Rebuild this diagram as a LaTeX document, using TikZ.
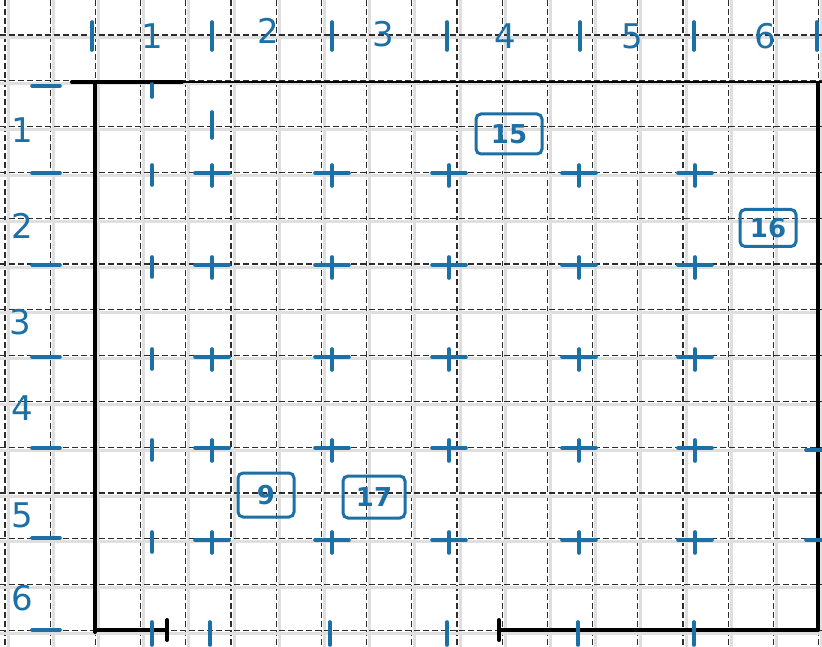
\documentclass[tikz,border=0pt]{standalone}
\usepackage{tikz}
\usepackage{fontspec}
\setmainfont{DejaVu Sans}
\definecolor{inkblue}{RGB}{28, 112, 165}
\definecolor{paperline}{RGB}{45, 45, 45}

\begin{document}
\begin{tikzpicture}[
  x=1pt, y=-1pt,
  ink/.style={draw=inkblue, line width=3.6pt, line cap=round},
  wall/.style={draw=black, line width=4pt, line cap=round},
  rulernum/.style={text=inkblue, font=\fontsize{34}{36}\selectfont, inner sep=0pt},
  tagbox/.style={rectangle, rounded corners=5pt, draw=inkblue, line width=3pt,
    text=inkblue, font=\fontsize{26}{28}\selectfont\bfseries, inner sep=2pt}
]
  \useasboundingbox (0,0) rectangle (822,647);
  \fill[white] (0,0) rectangle (822,647);

  % paper grid
  \foreach \k in {0,...,18} {
    \draw[gray!25, line width=3pt] (5+45.2*\k+3,0) -- (5+45.2*\k+3,647);
    \draw[paperline, line width=1.2pt, dash pattern=on 6pt off 3pt] (5+45.2*\k,0) -- (5+45.2*\k,647);
  }
  \foreach \k in {0,...,13} {
    \draw[gray!25, line width=3pt] (0,35+45.8*\k+3) -- (822,35+45.8*\k+3);
    \draw[paperline, line width=1.2pt, dash pattern=on 6pt off 3pt] (0,35+45.8*\k) -- (822,35+45.8*\k);
  }

  % walls
  \draw[wall] (72,82) -- (182,82);
  \draw[black, line width=2pt] (182,82) -- (822,82);
  \draw[wall] (95,82) -- (95,632);
  \draw[wall] (95,630) -- (167,630);
  \draw[wall] (167,620) -- (167,640);
  \draw[wall] (499,630) -- (818,630);
  \draw[wall] (499,620) -- (499,640);
  \draw[wall] (818,84) -- (818,630);

  % top ruler
  \foreach \px in {92,212,332,447,580,694,817}
    \draw[ink] (\px,22) -- (\px,50);
  \node[rulernum] (top1) at (152,36) {1};
  \node[rulernum] (top2) at (268,31) {2};
  \node[rulernum] (top3) at (383,34) {3};
  \node[rulernum] (top4) at (505,36) {4};
  \node[rulernum] (top5) at (632,36) {5};
  \node[rulernum] (top6) at (765,36) {6};

  % left ruler
  \foreach \py in {86,173,265,357,448,538,630}
    \draw[ink] (32,\py) -- (60,\py);
  \node[rulernum] (left1) at (22,130) {1};
  \node[rulernum] (left2) at (22,226) {2};
  \node[rulernum] (left3) at (20,322) {3};
  \node[rulernum] (left4) at (22,408) {4};
  \node[rulernum] (left5) at (22,515) {5};
  \node[rulernum] (left6) at (22,598) {6};

  % crosses
  \foreach \py in {173,265,357,448,540} {
    \draw[ink] (152,\py-8) -- (152,\py+12);
    \foreach \px in {212,332,449,579,695}
      \draw[ink] (\px-17,\py) -- (\px+17,\py) (\px,\py-8) -- (\px,\py+13);
  }
  \foreach \px in {152,210,330,447,578,694}
    \draw[ink] (\px,622) -- (\px,645);
  \draw[ink] (152,84) -- (152,97);
  \draw[ink] (212,112) -- (212,138);
  \draw[ink] (806,450) -- (822,450);
  \draw[ink] (806,540) -- (822,540);

  % tags
  \node[tagbox, minimum width=66pt, minimum height=40pt] (tag15) at (509,134) {15};
  \node[tagbox, minimum width=56pt, minimum height=37pt] (tag16) at (768,228) {16};
  \node[tagbox, minimum width=56pt, minimum height=44pt] (tag9) at (266,495) {9};
  \node[tagbox, minimum width=62pt, minimum height=42pt] (tag17) at (374,497) {17};
\end{tikzpicture}
\end{document}
